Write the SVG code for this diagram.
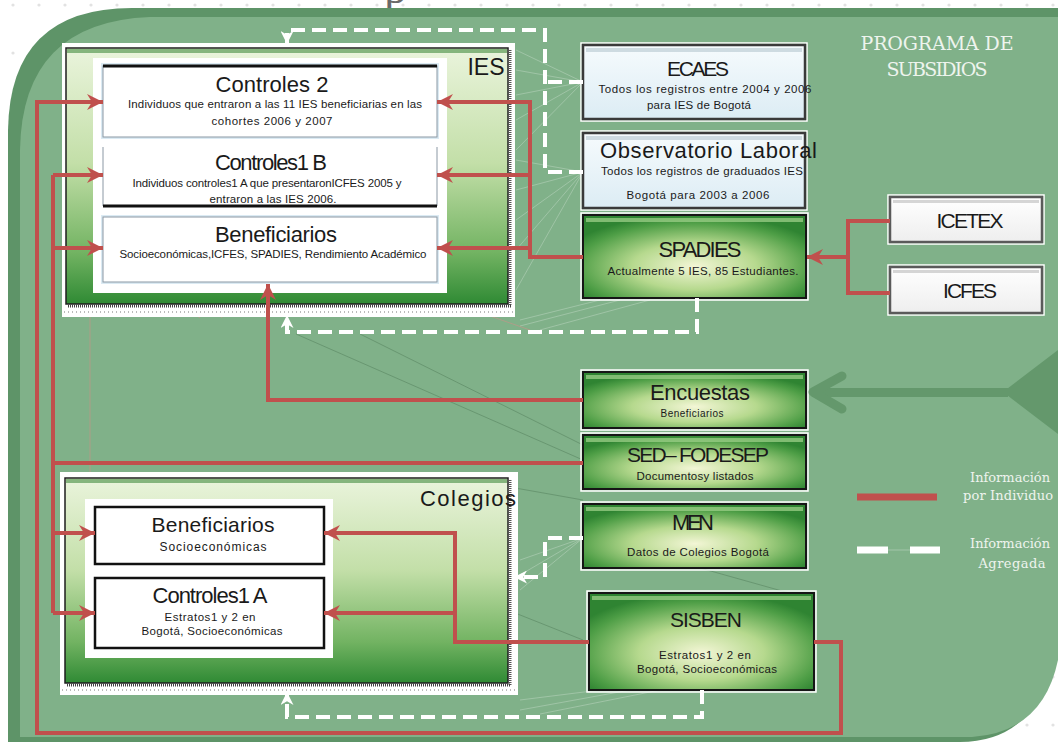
<svg xmlns="http://www.w3.org/2000/svg" width="1058" height="742" viewBox="0 0 1058 742">
<defs>
<style>
.t{font-family:"Liberation Sans",Arial,sans-serif;fill:#1a1a1a;text-anchor:middle}
.h{font-size:22px}
.s{font-size:11.5px}
.lg{font-family:"DejaVu Serif","Liberation Serif",serif;fill:#eef4ee;text-anchor:middle}
.red{fill:none;stroke:#c0504d;stroke-width:4}
.wd{fill:none;stroke:#fff;stroke-width:4;stroke-dasharray:14 7}
.cont{fill:url(#gCont);stroke:#1e1e1e;stroke-width:1.5}
.gb{fill:url(#gBtn);stroke:#161616;stroke-width:2}
.lb{fill:url(#gLight);stroke:#3a3a3a;stroke-width:2.5}
.wb{fill:url(#gWhite);stroke:#5a5a5a;stroke-width:2.5}
.ow{fill:none;stroke:#fff;stroke-width:1.5}
.bev{fill:#9ccf88;opacity:0.75}
.bevl{fill:#c4d3da;opacity:0.8}
.fw{stroke:#fff;stroke-width:0.7;opacity:0.35;fill:none}
.fr{stroke:#e08a8a;stroke-width:0.8;opacity:0.6;fill:none}
.fd{stroke:#4a7652;stroke-width:0.8;opacity:0.55;fill:none}
</style>
<pattern id="dots" width="26" height="48" patternUnits="userSpaceOnUse"><circle cx="13" cy="5" r="1.6" fill="#e2e2e2"/></pattern>
<linearGradient id="gCont" x1="0" y1="0" x2="0" y2="1">
<stop offset="0" stop-color="#eaf4dc"/><stop offset="0.45" stop-color="#c3dfa8"/><stop offset="0.8" stop-color="#72b362"/><stop offset="1" stop-color="#2f8a34"/>
</linearGradient>
<radialGradient id="gBtn" cx="0.5" cy="0.62" r="0.62">
<stop offset="0" stop-color="#f3f6d6"/><stop offset="0.45" stop-color="#b6d98e"/><stop offset="0.85" stop-color="#4e9e46"/><stop offset="1" stop-color="#2f8432"/>
</radialGradient>
<linearGradient id="gLight" x1="0" y1="0" x2="0" y2="1">
<stop offset="0" stop-color="#f6fbfd"/><stop offset="1" stop-color="#dcecf4"/>
</linearGradient>
<linearGradient id="gWhite" x1="0" y1="0" x2="0" y2="1">
<stop offset="0" stop-color="#ffffff"/><stop offset="1" stop-color="#eeeeee"/>
</linearGradient>
<marker id="ar" viewBox="0 0 16 16" refX="16" refY="8" markerWidth="16" markerHeight="16" markerUnits="userSpaceOnUse" orient="auto"><path d="M0,0 L16,8 L0,16 L5,8 Z" fill="#c0504d"/></marker>
<marker id="aw" viewBox="0 0 14 14" refX="14" refY="7" markerWidth="13" markerHeight="13" markerUnits="userSpaceOnUse" orient="auto"><path d="M0,0 L14,7 L0,14 L4,7 Z" fill="#fff"/></marker>
</defs>

<rect width="1058" height="742" fill="#fff"/>
<rect width="1058" height="742" fill="url(#dots)"/>
<text x="384" y="3" font-family="Liberation Serif,serif" font-size="46" fill="#6a6a6a">p</text>

<g id="background">
<path d="M1058 8 H132 Q10 8 8 130 V742 H960 Q1040 742 1058 645 Z" fill="#5e9468"/>
<path d="M1058 17 H150 Q22 22 20 150 V737 H972 Q1043 732 1058 660 Z" fill="#80b189"/>
</g>

<g id="faint">
<path class="fw" d="M583 82 L516 50 M583 82 L516 70 M583 82 L516 95 M583 82 L516 120 M583 82 L516 150 M583 172 L516 160 M583 172 L516 190 M583 172 L516 220 M583 172 L516 250 M583 172 L516 290 M600 300 L520 320 M620 300 L520 326 M650 300 L540 330 M583 538 L520 560 M583 538 L520 575 M583 538 L520 590 M600 690 L520 700 M630 690 L520 710 M660 690 L540 714"/>
<path class="fr" d="M103 102 L222 318 M103 248 L200 318 M273 140 L400 262 M90 300 V500 M330 260 L530 330"/>
<path class="fd" d="M296 334 L583 460 M360 334 L583 445 M324 537 L583 640 M470 480 L583 500 M700 568 L814 600"/>
</g>

<g id="ies">
<rect x="62" y="43" width="453" height="274" fill="#fff"/>
<line x1="64" y1="312" x2="514" y2="312" stroke="#bbb" stroke-width="2" stroke-dasharray="1 3"/>
<rect class="cont" x="66" y="48" width="442" height="256"/>
<rect x="67" y="49" width="440" height="4" fill="#5a9a55" opacity="0.7"/>
<line x1="510" y1="50" x2="510" y2="306" stroke="#555" stroke-width="3" stroke-dasharray="1 1"/>
<line x1="68" y1="306" x2="511" y2="306" stroke="#444" stroke-width="3" stroke-dasharray="1 1"/>
<rect x="93" y="58" width="354" height="235" fill="#fff"/>
<text class="t" x="486" y="75" font-size="23" textLength="37">IES</text>
</g>

<g id="ies-controles2">
<rect x="102" y="64" width="336" height="74" fill="none" stroke="#dbeaf3" stroke-width="2"/>
<rect x="103" y="66" width="334" height="71" fill="#fff" stroke="#8b98a4" stroke-width="1"/>
<line x1="103" y1="66" x2="437" y2="66" stroke="#111" stroke-width="3"/>
<text class="t h" x="272" y="92" textLength="113">Controles 2</text>
<text class="t s" x="275" y="108" textLength="294">Individuos que entraron a las 11 IES beneficiarias en las</text>
<text class="t s" x="272" y="125" textLength="121">cohortes 2006 y 2007</text>
</g>

<g id="ies-controles1b">
<rect x="103" y="147" width="334" height="59" fill="#fff"/>
<path d="M103 147 V206 M437 147 V206" stroke="#8b98a4" stroke-width="1"/>
<line x1="103" y1="206" x2="437" y2="206" stroke="#111" stroke-width="3"/>
<text class="t h" x="271" y="170" textLength="112">Controles1 B</text>
<text class="t s" x="267" y="187" textLength="269">Individuos controles1 A que presentaronICFES 2005 y</text>
<text class="t s" x="273" y="203" textLength="127">entraron a las IES 2006.</text>
</g>

<g id="ies-beneficiarios">
<rect x="102" y="216" width="336" height="67" fill="none" stroke="#dbeaf3" stroke-width="2"/>
<rect x="103" y="217" width="334" height="65" fill="#fff" stroke="#8b98a4" stroke-width="1"/>
<text class="t h" x="276" y="242" textLength="122">Beneficiarios</text>
<text class="t s" x="273" y="258" textLength="307">Socioeconómicas,ICFES, SPADIES, Rendimiento Académico</text>
</g>

<g id="colegios">
<rect x="60" y="472" width="458" height="223" fill="#fff"/>
<line x1="62" y1="690" x2="516" y2="690" stroke="#bbb" stroke-width="2" stroke-dasharray="1 3"/>
<rect class="cont" x="65" y="478" width="443" height="205"/>
<rect x="66" y="479" width="441" height="4" fill="#5a9a55" opacity="0.7"/>
<line x1="510" y1="480" x2="510" y2="685" stroke="#555" stroke-width="3" stroke-dasharray="1 1"/>
<line x1="67" y1="685" x2="511" y2="685" stroke="#444" stroke-width="3" stroke-dasharray="1 1"/>
<rect x="85" y="499" width="248" height="159" fill="#fff"/>
<text class="t" x="468" y="506" font-size="22" textLength="96">Colegios</text>
</g>

<g id="col-beneficiarios">
<rect x="95" y="507" width="229" height="57" fill="#fff" stroke="#111" stroke-width="2.5"/>
<text class="t" x="213" y="532" font-size="21" textLength="123">Beneficiarios</text>
<text class="t" x="213" y="551" font-size="12" textLength="107">Socioeconómicas</text>
</g>

<g id="col-controles1a">
<rect x="95" y="578" width="229" height="70" fill="#fff" stroke="#111" stroke-width="2.5"/>
<text class="t" x="210" y="603" font-size="22" textLength="115">Controles1 A</text>
<text class="t s" x="210" y="621" textLength="91">Estratos1  y 2 en</text>
<text class="t s" x="212" y="635" textLength="141">Bogotá, Socioeconómicas</text>
</g>

<g id="ecaes">
<rect x="581" y="43" width="226" height="78" class="ow"/>
<rect class="lb" x="583" y="45" width="222" height="74"/>
<rect class="bevl" x="586" y="48" width="216" height="4"/>
<text class="t" x="698" y="76" font-size="21" textLength="62">ECAES</text>
<text class="t s" x="705" y="93" textLength="213">Todos los registros entre 2004 y 2006</text>
<text class="t s" x="699" y="109" textLength="104">para IES de Bogotá</text>
</g>

<g id="observatorio">
<rect x="581" y="131" width="226" height="79" class="ow"/>
<rect class="lb" x="583" y="133" width="222" height="75"/>
<rect class="bevl" x="586" y="136" width="216" height="4"/>
<text class="t h" x="600" y="158" style="text-anchor:start" textLength="217">Observatorio  Laboral</text>
<text class="t s" x="702" y="175" textLength="202">Todos los registros de graduados IES</text>
<text class="t s" x="698" y="199" textLength="143">Bogotá para 2003 a 2006</text>
</g>

<g id="spadies">
<rect x="581" y="213" width="227" height="87" class="ow"/>
<rect class="gb" x="583" y="215" width="223" height="83"/>
<rect class="bev" x="586" y="218" width="217" height="4"/>
<text class="t h" x="700" y="257" textLength="83">SPADIES</text>
<text class="t s" x="703" y="275" textLength="191">Actualmente 5 IES, 85 Estudiantes.</text>
</g>

<g id="icetex">
<rect x="888" y="195" width="156" height="49" class="ow"/>
<rect class="wb" x="890" y="197" width="152" height="45"/>
<rect x="893" y="200" width="146" height="3" fill="#d5d5d5"/>
<text class="t" x="970" y="228" font-size="21" textLength="67">ICETEX</text>
</g>

<g id="icfes">
<rect x="888" y="265" width="156" height="50" class="ow"/>
<rect class="wb" x="890" y="267" width="152" height="46"/>
<rect x="893" y="270" width="146" height="3" fill="#d5d5d5"/>
<text class="t" x="970" y="298" font-size="21" textLength="54">ICFES</text>
</g>

<g id="encuestas">
<rect x="581" y="370" width="227" height="60" class="ow"/>
<rect class="gb" x="583" y="372" width="223" height="56"/>
<rect class="bev" x="586" y="375" width="217" height="4"/>
<text class="t h" x="700" y="400" textLength="100">Encuestas</text>
<text class="t" x="692" y="417" font-size="10" textLength="63">Beneficiarios</text>
</g>

<g id="sed-fodesep">
<rect x="581" y="433" width="227" height="58" class="ow"/>
<rect class="gb" x="583" y="435" width="223" height="54"/>
<rect class="bev" x="586" y="438" width="217" height="4"/>
<text class="t" x="698" y="462" font-size="21" textLength="142">SED– FODESEP</text>
<text class="t s" x="695" y="480" textLength="117">Documentosy listados</text>
</g>

<g id="men">
<rect x="581" y="502" width="227" height="68" class="ow"/>
<rect class="gb" x="583" y="504" width="223" height="64"/>
<rect class="bev" x="586" y="507" width="217" height="4"/>
<text class="t h" x="693" y="530" textLength="42">MEN</text>
<text class="t s" x="698" y="556" textLength="142">Datos de Colegios Bogotá</text>
</g>

<g id="sisben">
<rect x="587" y="591" width="229" height="101" class="ow"/>
<rect class="gb" x="589" y="593" width="225" height="97"/>
<rect class="bev" x="592" y="596" width="219" height="4"/>
<text class="t" x="706" y="627" font-size="21" textLength="72">SISBEN</text>
<text class="t s" x="705" y="659" textLength="92">Estratos1  y 2 en</text>
<text class="t s" x="707" y="673" textLength="140">Bogotá, Socioeconómicas</text>
</g>

<g id="programa">
<text class="lg" x="937" y="50" font-size="19" textLength="153">PROGRAMA DE</text>
<text class="lg" x="937" y="76" font-size="19" textLength="101">SUBSIDIOS</text>
</g>

<g id="big-arrow" fill="#64986c" stroke="#64986c">
<path d="M1058 350 L1003 392 L1058 434 Z" stroke="none"/>
<rect x="812" y="388" width="196" height="9" stroke="none"/>
<path d="M813 392 L842 376 M813 392 L842 409" fill="none" stroke-width="9" stroke-linecap="round"/>
</g>

<g id="connectors">
<path class="red" d="M814 642 H841 V733 H37 V102 H103" marker-end="url(#ar)"/>
<path class="red" d="M583 463 H53 M53 175 V613"/>
<path class="red" d="M53 175 H103" marker-end="url(#ar)"/>
<path class="red" d="M53 248 H103" marker-end="url(#ar)"/>
<path class="red" d="M53 533 H95" marker-end="url(#ar)"/>
<path class="red" d="M53 613 H95" marker-end="url(#ar)"/>
<path class="red" d="M583 257 H530 V102 H437" marker-end="url(#ar)"/>
<path class="red" d="M530 175 H437" marker-end="url(#ar)"/>
<path class="red" d="M530 248 H437" marker-end="url(#ar)"/>
<path class="red" d="M583 400 H268 V284" marker-end="url(#ar)"/>
<path class="red" d="M890 221 H848 V293 H890"/>
<path class="red" d="M848 257 H807" marker-end="url(#ar)"/>
<path class="red" d="M589 642 H455 V533 H324" marker-end="url(#ar)"/>
<path class="red" d="M455 613 H324" marker-end="url(#ar)"/>
<path class="wd" d="M583 82 H545"/>
<path class="wd" d="M583 172 H545 V30 H287 V44" marker-end="url(#aw)"/>
<path class="wd" d="M697 298 V332 H287 V315" marker-end="url(#aw)"/>
<path class="wd" d="M583 538 H545 V577 H514" marker-end="url(#aw)"/>
<path class="wd" d="M702 690 V717 H287 V692" marker-end="url(#aw)"/>
</g>

<g id="legend">
<line x1="857" y1="497" x2="937" y2="497" stroke="#c0504d" stroke-width="7"/>
<text class="lg" x="1010" y="482" font-size="13" textLength="80">Información</text>
<text class="lg" x="1008" y="500" font-size="13" textLength="90">por Individuo</text>
<path d="M857 550 H888 M910 550 H940" stroke="#fff" stroke-width="7"/>
<line x1="888" y1="550" x2="910" y2="550" stroke="#fff" stroke-width="0.7" opacity="0.4"/>
<text class="lg" x="1010" y="548" font-size="13" textLength="80">Información</text>
<text class="lg" x="1012" y="568" font-size="13" textLength="67">Agregada</text>
</g>
</svg>
